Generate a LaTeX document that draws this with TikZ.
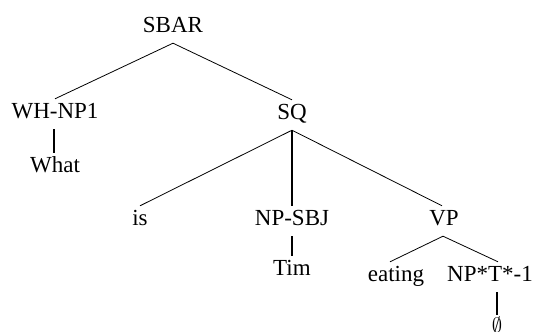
\documentclass[tikz,border=0pt]{standalone}
\usepackage{fontspec}
\setmainfont{Liberation Serif}
\begin{document}
\begin{tikzpicture}[x=1pt,y=-1pt,
  lbl/.style={anchor=base,inner xsep=0pt,inner ysep=4pt,text height=15pt,text depth=7pt,font=\fontsize{23}{27}\selectfont},
  thinline/.style={line width=0.8pt},
  thickline/.style={line width=2.6pt}]
\useasboundingbox (0,0) rectangle (539,332);
\node[lbl] (sbar) at (173,32) {SBAR};
\node[lbl] (wh) at (55,118) {WH-NP1};
\node[lbl] (what) at (55,172) {What};
\node[lbl] (sq) at (292,119) {SQ};
\node[lbl] (is) at (140,225) {is};
\node[lbl] (npsbj) at (292,225) {NP-SBJ};
\node[lbl] (tim) at (292,275) {Tim};
\node[lbl] (vp) at (444,225) {VP};
\node[lbl] (eating) at (396,281) {eating};
\node[lbl] (npt) at (490,281) {NP*T*-1};
\node[anchor=base,inner sep=0pt,font=\fontsize{21}{25}\selectfont] (phi) at (497,332) {$\emptyset$};
\coordinate (phitop) at (497,315);
\draw[thinline] (sbar.south) -- (wh.north);
\draw[thinline] (sbar.south) -- (sq.north);
\draw[thickline] ([xshift=-1pt]wh.south) -- ([xshift=-1pt]what.north);
\draw[thinline] (sq.south) -- (is.north);
\draw[thickline] (sq.south) -- (npsbj.north);
\draw[thinline] (sq.south) -- ([xshift=-2pt]vp.north);
\draw[thickline] (npsbj.south) -- (tim.north);
\draw[thinline] ([xshift=-1pt]vp.south) -- ([xshift=-6pt]eating.north);
\draw[thinline] ([xshift=-1pt]vp.south) -- ([xshift=8pt]npt.north);
\draw[thickline] ([xshift=7pt]npt.south) -- (phitop);
\end{tikzpicture}
\end{document}
